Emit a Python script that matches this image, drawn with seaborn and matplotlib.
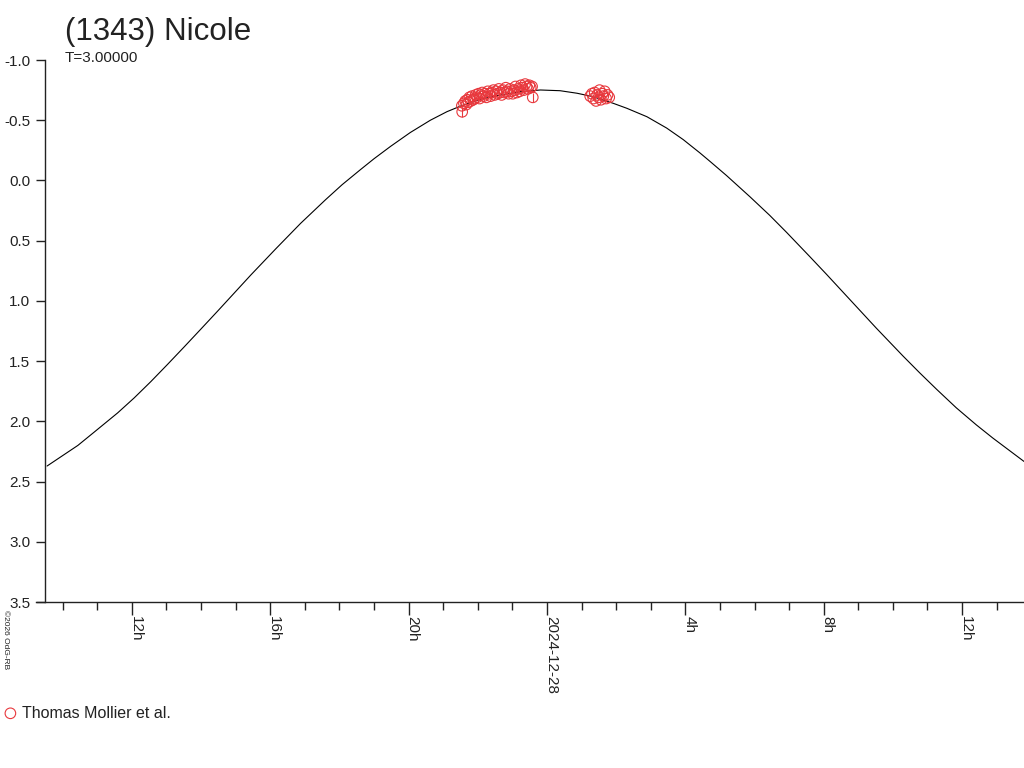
import matplotlib
matplotlib.use("Agg")
import matplotlib.pyplot as plt
from matplotlib.ticker import FixedLocator, FixedFormatter
import seaborn as sns
import pandas as pd

# model curve (hours from 2024-12-28 00:00 UT, magnitude)
curve_hours = [-14.45, -13.56, -13.09, -12.41, -11.93, -11.45, -10.97, -10.49, -10.01,
               -9.52, -9.04, -8.56, -7.84, -7.12, -6.40, -5.92, -5.39, -5.00, -4.52,
               -3.95, -3.37, -2.89, -2.50, -1.93, -1.35, -0.77, -0.19, 0.38, 0.87,
               1.34, 1.92, 2.31, 2.89, 3.46, 3.94, 4.14, 4.42, 4.71, 5.19, 5.87, 6.44,
               6.93, 7.60, 8.08, 8.56, 9.04, 9.52, 10.29, 10.77, 11.26, 11.83,
               12.41, 12.89, 13.79]
curve_mag = [2.371, 2.200, 2.090, 1.930, 1.805, 1.670, 1.528, 1.383, 1.236,
             1.085, 0.935, 0.785, 0.568, 0.356, 0.160, 0.035, -0.090, -0.180, -0.283,
             -0.398, -0.500, -0.571, -0.617, -0.674, -0.709, -0.737, -0.751, -0.745, -0.724,
             -0.695, -0.640, -0.599, -0.529, -0.435, -0.339, -0.293, -0.229, -0.159, -0.041,
             0.136, 0.290, 0.432, 0.633, 0.779, 0.928, 1.077, 1.226, 1.457, 1.596, 1.733,
             1.887, 2.029, 2.139, 2.333]

# observations, first block
obs1_hours = [-2.46, -2.45, -2.40, -2.36, -2.33, -2.30, -2.27, -2.24, -2.20, -2.17,
              -2.13, -2.10, -2.06, -2.02, -1.98, -1.95, -1.91, -1.87, -1.83, -1.79,
              -1.75, -1.71, -1.67, -1.63, -1.59, -1.55, -1.51, -1.47, -1.43, -1.39,
              -1.35, -1.31, -1.27, -1.23, -1.19, -1.15, -1.11, -1.07, -1.03, -0.99,
              -0.95, -0.91, -0.87, -0.83, -0.79, -0.75, -0.71, -0.67, -0.63, -0.59,
              -0.55, -0.51, -0.47, -0.43, -0.41]
obs1_mag = [-0.62, -0.57, -0.64, -0.66, -0.63, -0.67, -0.65, -0.69, -0.66, -0.70,
            -0.67, -0.68, -0.71, -0.69, -0.72, -0.68, -0.71, -0.73, -0.70, -0.72,
            -0.69, -0.74, -0.72, -0.70, -0.73, -0.75, -0.71, -0.74, -0.72, -0.76,
            -0.73, -0.71, -0.75, -0.73, -0.77, -0.74, -0.72, -0.76, -0.74, -0.72,
            -0.75, -0.78, -0.73, -0.76, -0.74, -0.79, -0.77, -0.75, -0.80, -0.78,
            -0.76, -0.79, -0.77, -0.78, -0.69]
obs1_err = [0.0, 0.04, 0.0, 0.0, 0.0, 0.0, 0.0, 0.0, 0.0, 0.0,
            0.0, 0.0, 0.0, 0.0, 0.0, 0.0, 0.0, 0.0, 0.0, 0.0,
            0.0, 0.0, 0.0, 0.0, 0.0, 0.0, 0.0, 0.0, 0.0, 0.0,
            0.0, 0.0, 0.0, 0.0, 0.0, 0.0, 0.0, 0.0, 0.0, 0.0,
            0.0, 0.0, 0.0, 0.0, 0.0, 0.0, 0.0, 0.0, 0.0, 0.0,
            0.0, 0.0, 0.0, 0.0, 0.04]

# second block
obs2_hours = [1.25, 1.30, 1.34, 1.38, 1.42, 1.45, 1.49, 1.52, 1.56, 1.60,
              1.63, 1.67, 1.71, 1.75, 1.80]
obs2_mag = [-0.70, -0.72, -0.68, -0.73, -0.66, -0.71, -0.69, -0.75, -0.67, -0.72,
            -0.70, -0.74, -0.68, -0.71, -0.69]
obs2_err = [0.0] * 15

major_hours = [-12, -8, -4, 0, 4, 8, 12]
major_labels = ["12h", "16h", "20h", "2024-12-28", "4h", "8h", "12h"]
minor_hours = list(range(-14, 14))
y_ticks = [-1.0, -0.5, 0.0, 0.5, 1.0, 1.5, 2.0, 2.5, 3.0, 3.5]

curve_df = pd.DataFrame({"hours": curve_hours, "mag": curve_mag})
obs_df = pd.DataFrame({"hours": obs1_hours + obs2_hours,
                       "mag": obs1_mag + obs2_mag,
                       "err": obs1_err + obs2_err})

sns.set_style("white")
plt.rcParams["font.family"] = ["Liberation Sans", "DejaVu Sans"]

W, H = 1024, 768
fig = plt.figure(figsize=(W / 100, H / 100), dpi=100)
ax = fig.add_axes([36 / W, (H - 602) / H, (W - 36) / W, (602 - 60) / H])

red = "#e8383d"
sns.lineplot(data=curve_df, x="hours", y="mag", color="black", linewidth=0.8,
             sort=True, ax=ax)
sns.scatterplot(data=obs_df, x="hours", y="mag", marker="o", s=58,
                facecolors="none", edgecolors=red, linewidth=0.8,
                label="Thomas Mollier et al.", ax=ax, zorder=3)
with_err = obs_df[obs_df["err"] > 0]
ax.errorbar(with_err["hours"], with_err["mag"], yerr=with_err["err"], fmt="none",
            ecolor=red, elinewidth=0.8, capsize=0, zorder=3)

ax.set_xlim(-14.77, 13.79)
ax.set_ylim(3.5, -1.0)

ax.spines["top"].set_visible(False)
ax.spines["right"].set_visible(False)
ax.spines["left"].set_position(("axes", 9 / (W - 36)))
for s in ("left", "bottom"):
    ax.spines[s].set_color("#222222")
    ax.spines[s].set_linewidth(1.0)

ax.xaxis.set_major_locator(FixedLocator(major_hours))
ax.xaxis.set_major_formatter(FixedFormatter(major_labels))
ax.xaxis.set_minor_locator(FixedLocator(minor_hours))
ax.tick_params(axis="x", which="both", bottom=True)
ax.tick_params(axis="x", which="major", direction="out", length=9, width=1,
               color="#222222", labelsize=11, labelcolor="#222222",
               labelrotation=270, pad=1)
ax.tick_params(axis="x", which="minor", direction="out", length=6, width=1,
               color="#222222")
for lab in ax.get_xticklabels():
    lab.set_rotation_mode("anchor")
    lab.set_verticalalignment("baseline")
    lab.set_horizontalalignment("left")

ax.set_yticks(y_ticks)
ax.set_yticklabels([f"{v:.1f}" for v in y_ticks])
ax.tick_params(axis="y", which="major", left=True, direction="out", length=6.5,
               width=1, color="#222222", labelsize=11, labelcolor="#222222", pad=4)
ax.set_xlabel("")
ax.set_ylabel("")

fig.text(65 / W, 1 - 32 / H, "(1343) Nicole", fontsize=22.5, color="#222222",
         va="center", ha="left")
fig.text(65 / W, 1 - 58 / H, "T=3.00000", fontsize=11, color="#222222",
         va="center", ha="left")
fig.text(2 / W, 1 - 640 / H, "\u00a92026 OdG-RB", fontsize=6, color="#222222",
         rotation=270, va="center", ha="left")

ax.legend(loc="center left", bbox_to_anchor=(4 / W, (H - 713) / H),
          bbox_transform=fig.transFigure, frameon=False, fontsize=11.5,
          handlelength=0.8, handletextpad=0.35, borderaxespad=0, borderpad=0,
          labelcolor="#222222")

fig.savefig("out.png", dpi=100)
